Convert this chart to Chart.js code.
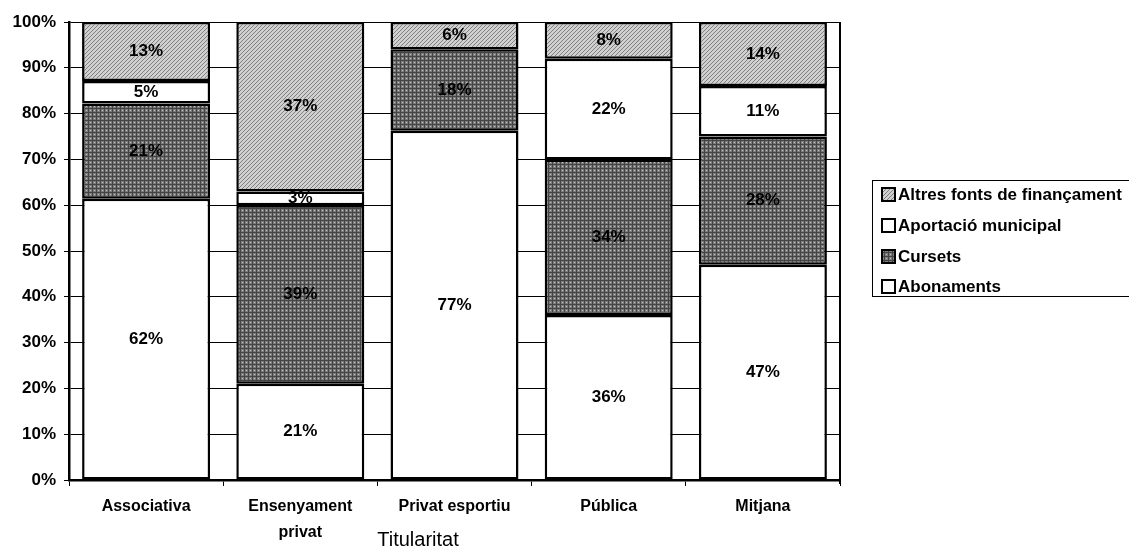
<!DOCTYPE html>
<html>
<head>
<meta charset="utf-8">
<script src="https://cdn.jsdelivr.net/npm/chart.js@4/dist/chart.umd.min.js"></script>
<style>
  html, body { margin: 0; padding: 0; background: #fff; }
  #wrap { width: 1129px; height: 555px; }
</style>
</head>
<body>
<div id="wrap"><canvas id="grafic" width="1129" height="555"></canvas></div>
<script>
// Dades llegides del gràfic (percentatges per titularitat)
const categories = ["Associativa", ["Ensenyament", "privat"], "Privat esportiu", "Pública", "Mitjana"];
const abonaments = [62, 21, 77, 36, 47];
const cursets = [21, 39, 18, 34, 28];
const aportacio = [5, 3, 0, 22, 11];
const altres = [13, 37, 6, 8, 14];
const seriesNames = ["Abonaments", "Cursets", "Aportació municipal", "Altres fonts de finançament"];
const yTicks = { min: 0, max: 100, step: 10 };

const FONT = "'Liberation Sans', Arial, sans-serif";

// Textures grises per imitar l'escàner original
function patroAltres() {
  const c = document.createElement("canvas");
  c.width = 8; c.height = 8;
  const g = c.getContext("2d");
  g.fillStyle = "#d0d0d0";
  g.fillRect(0, 0, 8, 8);
  g.fillStyle = "#808080";
  for (let i = 0; i < 8; i++) {
    g.fillRect((i + 7) % 8, 7 - i, 1, 1);
    g.fillRect((i + 3) % 8, 7 - i, 1, 1);
  }
  return g.createPattern(c, "repeat");
}

function patroCursets() {
  const c = document.createElement("canvas");
  c.width = 4; c.height = 4;
  const g = c.getContext("2d");
  g.fillStyle = "#7c7c7c";
  g.fillRect(0, 0, 4, 4);
  g.fillStyle = "#444";
  g.fillRect(0, 0, 4, 1);
  g.fillRect(0, 0, 1, 4);
  g.fillStyle = "#c0c0c0";
  g.fillRect(2, 2, 1, 1);
  return g.createPattern(c, "repeat");
}

const fills = ["#ffffff", patroCursets(), "#ffffff", patroAltres()];
const raw = [abonaments, cursets, aportacio, altres];

// Normalitza cada columna a 100% (com un gràfic apilat al 100%)
const totals = categories.map((_, i) => raw.reduce((s, serie) => s + serie[i], 0));
const datasets = raw.map((serie, k) => ({
  label: seriesNames[k],
  data: serie.map((v, i) => v / totals[i] * 100),
  valors: serie,
  backgroundColor: fills[k],
  borderColor: "#000",
  borderWidth: 2.5,
  borderSkipped: false,
  categoryPercentage: 1,
  barPercentage: 0.83
}));

// Etiquetes de valor, vora del gràfic, llegenda i títol de l'eix
const decoracio = {
  id: "decoracio",
  afterDatasetsDraw(chart) {
    const ctx = chart.ctx;
    const area = chart.chartArea;
    ctx.save();
    ctx.font = "bold 17px " + FONT;
    ctx.fillStyle = "#000";
    ctx.textAlign = "center";
    ctx.textBaseline = "middle";
    chart.data.datasets.forEach((ds, k) => {
      chart.getDatasetMeta(k).data.forEach((bar, i) => {
        const v = ds.valors[i];
        if (!v) return;
        const y = (bar.y + bar.base) / 2;
        ctx.fillText(v + "%", bar.x, y);
      });
    });

    // marc dret del gràfic
    ctx.strokeStyle = "#000";
    ctx.lineWidth = 2;
    ctx.beginPath();
    ctx.moveTo(area.right, area.top);
    ctx.lineTo(area.right, area.bottom + 4);
    ctx.stroke();

    // llegenda
    const lx = 872, ly = 180, lw = 262, lh = 116;
    ctx.lineWidth = 1;
    ctx.strokeRect(lx + 0.5, ly + 0.5, lw, lh);
    const ordre = [3, 2, 1, 0];
    const ys = [194, 225, 256, 286];
    ctx.textAlign = "left";
    ctx.font = "bold 17px " + FONT;
    ordre.forEach((k, j) => {
      const ds = chart.data.datasets[k];
      ctx.fillStyle = ds.backgroundColor;
      ctx.fillRect(882, ys[j] - 6, 13, 13);
      ctx.lineWidth = 2;
      ctx.strokeRect(882, ys[j] - 6, 13, 13);
      ctx.fillStyle = "#000";
      ctx.fillText(ds.label, 898, ys[j] + 1);
    });

    // títol de l'eix X
    ctx.font = "20px " + FONT;
    ctx.textAlign = "center";
    ctx.fillText("Titularitat", 418, 540);
    ctx.restore();
  }
};

new Chart(document.getElementById("grafic"), {
  type: "bar",
  data: { labels: categories, datasets },
  options: {
    responsive: false,
    animation: false,
    layout: { padding: { top: 22, right: 289, bottom: 0, left: 0 } },
    plugins: {
      legend: { display: false },
      tooltip: { enabled: false }
    },
    scales: {
      x: {
        stacked: true,
        grid: { display: true, drawOnChartArea: false, drawTicks: true, tickLength: 6, color: "#000", lineWidth: 1, offset: true },
        border: { color: "#000", width: 2.5 },
        ticks: {
          color: "#000",
          padding: 8,
          maxRotation: 0,
          autoSkip: false,
          font: { family: FONT, size: 16, weight: "bold", lineHeight: 1.6 }
        },
        afterFit(scale) { scale.height = 75; }
      },
      y: {
        stacked: true,
        min: yTicks.min,
        max: yTicks.max,
        grid: { color: "#000", lineWidth: 1, tickLength: 5 },
        border: { color: "#000", width: 2.5 },
        ticks: {
          stepSize: yTicks.step,
          color: "#000",
          padding: 8,
          font: { family: FONT, size: 17, weight: "bold" },
          callback: v => v + "%"
        },
        afterFit(scale) { scale.width = 69; }
      }
    }
  },
  plugins: [decoracio]
});
</script>
</body>
</html>
